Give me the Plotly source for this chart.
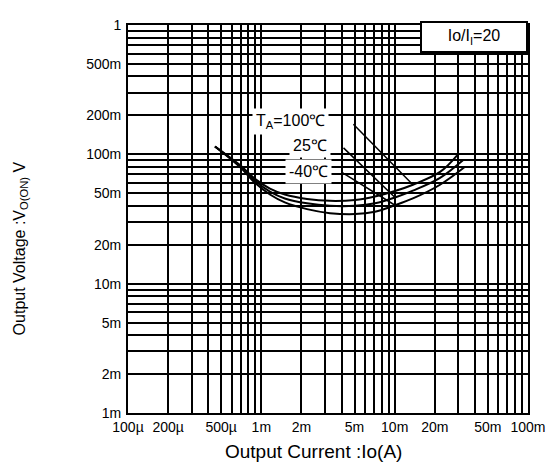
import numpy as np
import plotly.graph_objects as go

# ---- data ----
I_100 = [4.49e-4, 6.92e-4, 8.96e-4, 1.16e-3, 1.5e-3, 2.2e-3, 3.27e-3, 5.04e-3, 7.12e-3,
         1.006e-2, 1.37e-2, 2.19e-2, 2.94e-2]
V_100 = [0.115, 0.0825, 0.0646, 0.0543, 0.0489, 0.0452, 0.0437, 0.0444, 0.0472,
         0.0520, 0.0582, 0.0731, 0.0983]

I_25 = [4.49e-4, 6.92e-4, 8.96e-4, 1.16e-3, 1.5e-3, 2.2e-3, 3.27e-3, 5.04e-3, 7.12e-3,
        1.006e-2, 1.37e-2, 2.19e-2, 3.25e-2]
V_25 = [0.115, 0.0811, 0.0624, 0.0515, 0.0456, 0.0418, 0.0400, 0.0400, 0.0418,
        0.0464, 0.0524, 0.0658, 0.0900]

I_m40 = [4.49e-4, 6.92e-4, 8.96e-4, 1.16e-3, 1.5e-3, 2.2e-3, 3.27e-3, 5.04e-3, 7.12e-3,
         1.006e-2, 1.37e-2, 2.19e-2, 3.37e-2]
V_m40 = [0.115, 0.0797, 0.0603, 0.0489, 0.0425, 0.0377, 0.0351, 0.0345, 0.0360,
         0.0404, 0.0456, 0.0582, 0.0801]

x_labels = {1e-4: "100µ", 2e-4: "200µ", 5e-4: "500µ", 1e-3: "1m", 2e-3: "2m", 5e-3: "5m",
            1e-2: "10m", 2e-2: "20m", 5e-2: "50m", 1e-1: "100m"}
y_labels = {1e-3: "1m", 2e-3: "2m", 5e-3: "5m", 1e-2: "10m", 2e-2: "20m", 5e-2: "50m",
            1e-1: "100m", 2e-1: "200m", 5e-1: "500m", 1.0: "1"}

FONT = "Liberation Sans"

def grid_vals(dec_lo, dec_hi):
    vals = []
    for d in range(dec_lo, dec_hi):
        for m in range(1, 10):
            vals.append(round(m * 10.0 ** d, 12))
    vals.append(round(10.0 ** dec_hi, 12))
    return vals

xv = grid_vals(-4, -1)
yv = grid_vals(-3, 0)

def label_for(v, lab):
    for k, t in lab.items():
        if abs(v - k) / k < 1e-6:
            return t
    return ""

xt = [label_for(v, x_labels) for v in xv]
yt = [label_for(v, y_labels) for v in yv]

fig = go.Figure()
line = dict(color="black", width=2, shape="spline", smoothing=1.0)
for I, V, name in [(I_100, V_100, "100"), (I_25, V_25, "25"), (I_m40, V_m40, "-40")]:
    fig.add_trace(go.Scatter(x=I, y=V, mode="lines", line=line, name=name,
                             showlegend=False, hoverinfo="skip"))

axis_common = dict(type="log", showgrid=True, gridcolor="black", gridwidth=1.8,
                   showline=True, linecolor="black", linewidth=2, mirror=True,
                   ticks="", zeroline=False, tickmode="array", ticklabeloverflow="allow",
                   tickfont=dict(family=FONT, size=14, color="black"))

fig.update_xaxes(range=[-4, -1], tickvals=xv, ticktext=xt, **axis_common)
fig.update_yaxes(range=[-3, 0], tickvals=yv, ticktext=yt, ticklabelstandoff=2, **axis_common)

ann = []
# leader lines from labels to curves
for I, V, idx, ax, ay in [(I_100, V_100, 10, -61, -62), (I_25, V_25, 9, -53, -51),
                          (I_m40, V_m40, 9, -55, -34)]:
    ann.append(dict(x=np.log10(I[idx]), y=np.log10(V[idx]), xref="x", yref="y",
                    text="", showarrow=True, arrowhead=0, arrowwidth=1.5,
                    arrowcolor="black", ax=ax, ay=ay, standoff=0, startstandoff=0))

lab_font = dict(family=FONT, size=16, color="black")
ann.append(dict(x=0.405, y=0.7525, xref="paper", yref="paper", text="T<sub>A</sub>=100℃",
                showarrow=False, bgcolor="white", borderpad=3, font=lab_font,
                xanchor="center", yanchor="middle"))
ann.append(dict(x=0.455, y=0.6894, xref="paper", yref="paper", text="25℃",
                showarrow=False, bgcolor="white", borderpad=3, font=lab_font,
                xanchor="center", yanchor="middle"))
ann.append(dict(x=0.45, y=0.6237, xref="paper", yref="paper", text="-40℃",
                showarrow=False, bgcolor="white", borderpad=3, font=lab_font,
                xanchor="center", yanchor="middle"))
ann.append(dict(x=1.0, y=1.01, xref="paper", yref="paper", text="Io/I<sub>I</sub>=20",
                showarrow=False, bgcolor="white", bordercolor="black", borderwidth=2,
                borderpad=2, width=100, height=24, font=lab_font,
                xanchor="right", yanchor="top"))
# axis titles
ann.append(dict(x=0.4625, y=-0.0985, xref="paper", yref="paper",
                text="Output Current :Io(A)", showarrow=False,
                font=dict(family=FONT, size=19, color="black"),
                xanchor="center", yanchor="middle"))
ann.append(dict(x=-0.27, y=0.4242, xref="paper", yref="paper",
                text="Output Voltage :V<sub>O(ON)</sub> V", showarrow=False, textangle=-90,
                font=dict(family=FONT, size=16, color="black"),
                xanchor="center", yanchor="middle"))

# the page body adds an 8px offset, so the figure is 8px smaller and shifted
fig.update_layout(width=552, height=460, autosize=False,
                  margin=dict(l=120, r=32, t=9, b=55),
                  plot_bgcolor="white", paper_bgcolor="white",
                  annotations=ann, showlegend=False)

fig.write_html("out.html")
